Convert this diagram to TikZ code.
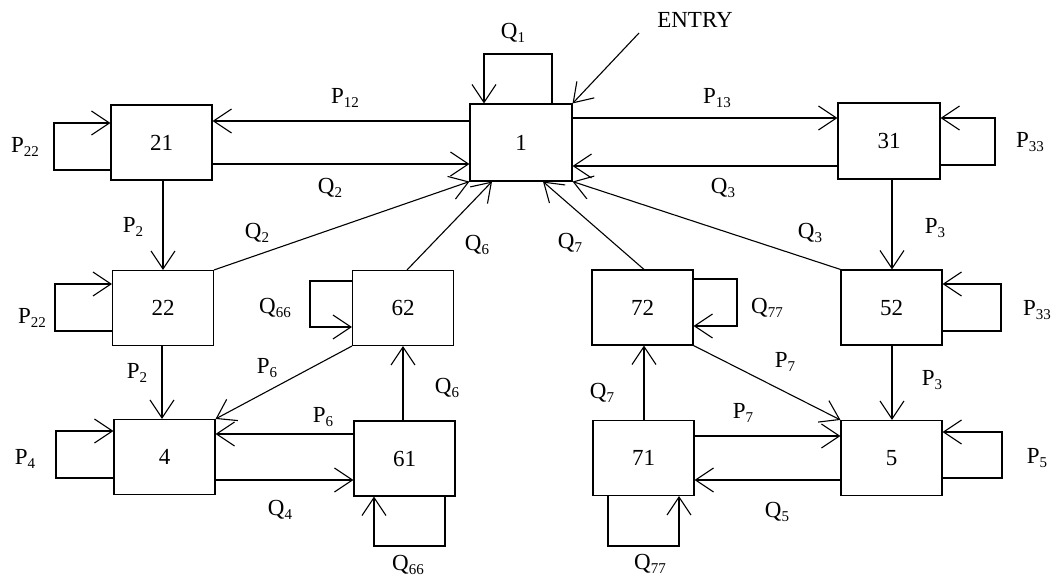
\documentclass[tikz,border=0pt]{standalone}
\usepackage{fontspec}
\setmainfont{Liberation Serif}
\usetikzlibrary{arrows.meta}
\newcommand\dn[1]{\raisebox{-0.45ex}{\fontsize{15}{15}\selectfont #1}}
\tikzset{
  box/.style={draw, line width=1.1pt, minimum width=101pt, minimum height=75pt, inner sep=0pt, font=\fontsize{23}{26}\selectfont},
  arr/.style={line width=1.1pt, -{Straight Barb[length=18pt,width=24pt,line width=1.1pt]}},
  ln/.style={line width=1.1pt},
  lbl/.style={font=\fontsize{23}{26}\selectfont, inner sep=1pt}
}
\begin{document}
\begin{tikzpicture}[x=1pt,y=-1pt]
\useasboundingbox (0,0) rectangle (1057,580);
% boxes
\node[box, minimum width=102pt, minimum height=77pt] (n1) at (521,142.5) {1};
\node[box] (n21) at (161.5,142.5) {21};
\node[box, minimum width=102pt, minimum height=76pt] (n31) at (889,141) {31};
\node[box] (n22) at (163,308) {22};
\node[box] (n62) at (403,308) {62};
\node[box] (n4) at (164.5,457) {4};
\node[box] (n61) at (404.5,458.5) {61};
\node[box] (n72) at (642.5,307.5) {72};
\node[box] (n52) at (891.5,307.5) {52};
\node[box] (n71) at (643.5,458) {71};
\node[box] (n5) at (891.5,458) {5};
\coordinate (entry) at (639,33);
% top row
\draw[arr] (n1.west |- 0,121) -- (n21.east |- 0,121);
\draw[arr] (n21.east |- 0,164) -- (n1.west |- 0,164);
\draw[arr] (n1.east |- 0,118) -- (n31.west |- 0,118);
\draw[arr] (n31.west |- 0,166) -- (n1.east |- 0,166);
\draw[arr] (entry) -- (n1.north east);
% Q1 loop
\draw[arr] (n1.north -| 552,0) -- (552,54) -- (484,54) -- (n1.north -| 484,0);
% P22 loop on 21
\draw[arr] (n21.west |- 0,170) -- (54,170) -- (54,123) -- (n21.west |- 0,123);
% P33 loop on 31
\draw[arr] (n31.east |- 0,165) -- (995,165) -- (995,118) -- (n31.east |- 0,118);
% verticals
\draw[arr] (n21.south -| 163,0) -- (n22.north -| 163,0);
\draw[arr] (n22.south -| 162,0) -- (n4.north -| 162,0);
\draw[arr] (n31.south -| 892,0) -- (n52.north -| 892,0);
\draw[arr] (n52.south -| 892,0) -- (n5.north -| 892,0);
\draw[arr] (n61.north -| 403,0) -- (n62.south -| 403,0);
\draw[arr] (n71.north -| 644,0) -- (n72.south -| 644,0);
% diagonals into 1
\draw[arr] (n22.north east) -- (n1.south west);
\draw[arr] (n62.north -| 407,0) -- (n1.south -| 492,0);
\draw[arr] (n72.north -| 644,0) -- (n1.south -| 543,0);
\draw[arr] (n52.north west) -- (n1.south east);
% other diagonals
\draw[arr] (n62.south west) -- (n4.north east);
\draw[arr] (n72.south east) -- (n5.north west);
% bottom horizontals
\draw[arr] (n61.west |- 0,434) -- (n4.east |- 0,434);
\draw[arr] (n4.east |- 0,480) -- (n61.west |- 0,480);
\draw[arr] (n71.east |- 0,436) -- (n5.west |- 0,436);
\draw[arr] (n5.west |- 0,480) -- (n71.east |- 0,480);
% loops
\draw[arr] (n22.west |- 0,331) -- (55,331) -- (55,284) -- (n22.west |- 0,284);
\draw[arr] (n4.west |- 0,478) -- (56,478) -- (56,431) -- (n4.west |- 0,431);
\draw[arr] (n62.west |- 0,281) -- (310,281) -- (310,327) -- (n62.west |- 0,327);
\draw[arr] (n61.south -| 445,0) -- (445,546) -- (374,546) -- (n61.south -| 374,0);
\draw[arr] (n72.east |- 0,279) -- (737,279) -- (737,326) -- (n72.east |- 0,326);
\draw[arr] (n71.south -| 608,0) -- (608,546) -- (679,546) -- (n71.south -| 679,0);
\draw[arr] (n52.east |- 0,331) -- (1001,331) -- (1001,284) -- (n52.east |- 0,284);
\draw[arr] (n5.east |- 0,478) -- (1002,478) -- (1002,432) -- (n5.east |- 0,432);
% labels
\node[lbl] (tEntry) at (695,20) {ENTRY};
\node[lbl] (tQ1) at (513,33) {Q\dn{1}};
\node[lbl] (tP12) at (345,98) {P\dn{12}};
\node[lbl] (tQ2a) at (330,188) {Q\dn{2}};
\node[lbl] (tP13) at (717,98) {P\dn{13}};
\node[lbl] (tQ3a) at (723,188) {Q\dn{3}};
\node[lbl] (tP22a) at (25,147) {P\dn{22}};
\node[lbl] (tP33a) at (1030,142) {P\dn{33}};
\node[lbl] (tP2a) at (133,227) {P\dn{2}};
\node[lbl] (tQ2b) at (257,233) {Q\dn{2}};
\node[lbl] (tQ6a) at (477,245) {Q\dn{6}};
\node[lbl] (tQ7a) at (570,243) {Q\dn{7}};
\node[lbl] (tQ3b) at (810,233) {Q\dn{3}};
\node[lbl] (tP3a) at (935,228) {P\dn{3}};
\node[lbl] (tP22b) at (32,318) {P\dn{22}};
\node[lbl] (tQ66a) at (275,308) {Q\dn{66}};
\node[lbl] (tQ77a) at (767,308) {Q\dn{77}};
\node[lbl] (tP33b) at (1037,310) {P\dn{33}};
\node[lbl] (tP2b) at (137,373) {P\dn{2}};
\node[lbl] (tP6a) at (267,368) {P\dn{6}};
\node[lbl] (tQ6b) at (447,388) {Q\dn{6}};
\node[lbl] (tQ7b) at (602,393) {Q\dn{7}};
\node[lbl] (tP7a) at (785,362) {P\dn{7}};
\node[lbl] (tP3b) at (932,380) {P\dn{3}};
\node[lbl] (tP6b) at (323,417) {P\dn{6}};
\node[lbl] (tP7b) at (743,413) {P\dn{7}};
\node[lbl] (tP4) at (25,459) {P\dn{4}};
\node[lbl] (tP5) at (1037,458) {P\dn{5}};
\node[lbl] (tQ4) at (280,510) {Q\dn{4}};
\node[lbl] (tQ5) at (777,512) {Q\dn{5}};
\node[lbl] (tQ66b) at (408,565) {Q\dn{66}};
\node[lbl] (tQ77b) at (650,564) {Q\dn{77}};
\end{tikzpicture}
\end{document}
